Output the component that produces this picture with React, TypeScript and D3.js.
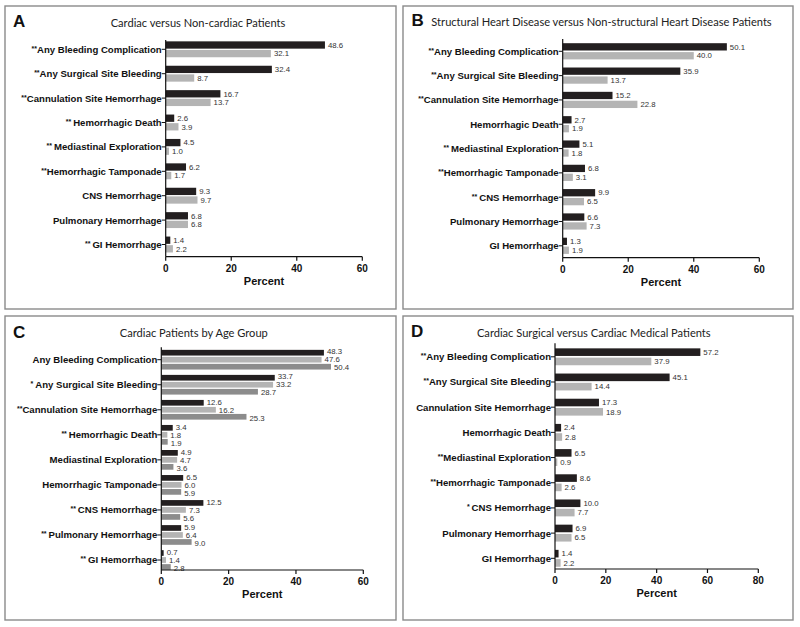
import React from "react";
import * as d3 from "d3";

// ---------- DATA ----------
const catsA = ["**Any Bleeding Complication", "**Any Surgical Site Bleeding", "**Cannulation Site Hemorrhage", "** Hemorrhagic Death", "** Mediastinal Exploration", "**Hemorrhagic Tamponade", "CNS Hemorrhage", "Pulmonary Hemorrhage", "** GI Hemorrhage"];
const aCardiac = [48.6, 32.4, 16.7, 2.6, 4.5, 6.2, 9.3, 6.8, 1.4];
const aNonCardiac = [32.1, 8.7, 13.7, 3.9, 1.0, 1.7, 9.7, 6.8, 2.2];

const catsB = ["**Any Bleeding Complication", "**Any Surgical Site Bleeding", "**Cannulation Site Hemorrhage", "Hemorrhagic Death", "** Mediastinal Exploration", "**Hemorrhagic Tamponade", "** CNS Hemorrhage", "Pulmonary Hemorrhage", "GI Hemorrhage"];
const bStructural = [50.1, 35.9, 15.2, 2.7, 5.1, 6.8, 9.9, 6.6, 1.3];
const bNonStructural = [40.0, 13.7, 22.8, 1.9, 1.8, 3.1, 6.5, 7.3, 1.9];

const catsC = ["Any Bleeding Complication", "* Any Surgical Site Bleeding", "**Cannulation Site Hemorrhage", "** Hemorrhagic Death", "Mediastinal Exploration", "Hemorrhagic Tamponade", "** CNS Hemorrhage", "** Pulmonary Hemorrhage", "** GI Hemorrhage"];
const cAge1 = [48.3, 33.7, 12.6, 3.4, 4.9, 6.5, 12.5, 5.9, 0.7];
const cAge2 = [47.6, 33.2, 16.2, 1.8, 4.7, 6.0, 7.3, 6.4, 1.4];
const cAge3 = [50.4, 28.7, 25.3, 1.9, 3.6, 5.9, 5.6, 9.0, 2.8];

const catsD = ["**Any Bleeding Complication", "**Any Surgical Site Bleeding", "Cannulation Site Hemorrhage", "Hemorrhagic Death", "**Mediastinal Exploration", "**Hemorrhagic Tamponade", "* CNS Hemorrhage", "Pulmonary Hemorrhage", "GI Hemorrhage"];
const dSurgical = [57.2, 45.1, 17.3, 2.4, 6.5, 8.6, 10.0, 6.9, 1.4];
const dMedical = [37.9, 14.4, 18.9, 2.8, 0.9, 2.6, 7.7, 6.5, 2.2];

const ticksA = [0, 20, 40, 60];
const ticksD = [0, 20, 40, 60, 80];
const axisTitle = "Percent";

// ---------- STYLE / LAYOUT ----------
const BLACK = "#231f20";
const LIGHT = "#b4b4b4";
const MID = "#8c8c8c";
const LABEL_FONT = "'Liberation Sans', Arial, sans-serif";
const TITLE_FONT = "Lato, 'Noto Sans', sans-serif";

type Panel = {
  letter: string; title: string; cats: string[]; series: number[][]; colors: string[];
  ticks: number[]; box: [number, number, number, number];
  x0: number; x1: number; axisY: number; top: number; first: number; last: number;
  barH: number; gap: number; labelStep: number; titleX: number; titleY: number;
  letterX: number; letterY: number;
};

const panels: Panel[] = [
  { letter: "A", title: "Cardiac versus Non-cardiac Patients", cats: catsA, series: [aCardiac, aNonCardiac], colors: [BLACK, LIGHT],
    ticks: ticksA, box: [5, 6, 396, 309], x0: 165.7, x1: 362.3, axisY: 256.7, top: 40, first: 49.3, last: 244.5,
    barH: 7.3, gap: 1.3, labelStep: 0, titleX: 198, titleY: 26.5, letterX: 13, letterY: 27 },
  { letter: "B", title: "Structural Heart Disease versus Non-structural Heart Disease Patients", cats: catsB, series: [bStructural, bNonStructural], colors: [BLACK, LIGHT],
    ticks: ticksA, box: [403, 6, 793, 309], x0: 562.7, x1: 759.3, axisY: 257.7, top: 39, first: 51.3, last: 245.8,
    barH: 7.3, gap: 1.6, labelStep: 0, titleX: 601.5, titleY: 25.5, letterX: 411.5, letterY: 26 },
  { letter: "C", title: "Cardiac Patients by Age Group", cats: catsC, series: [cAge1, cAge2, cAge3], colors: [BLACK, LIGHT, MID],
    ticks: ticksA, box: [5, 316, 396, 620], x0: 161.3, x1: 363.3, axisY: 570, top: 347.3, first: 359.7, last: 560,
    barH: 5.7, gap: 1.3, labelStep: 8, titleX: 193.8, titleY: 336.7, letterX: 13, letterY: 337.5 },
  { letter: "D", title: "Cardiac Surgical versus Cardiac Medical Patients", cats: catsD, series: [dSurgical, dMedical], colors: [BLACK, LIGHT],
    ticks: ticksD, box: [403, 316, 793, 620], x0: 555, x1: 758.3, axisY: 569, top: 343.3, first: 356.8, last: 558.3,
    barH: 7.6, gap: 1.7, labelStep: 0, titleX: 593.8, titleY: 336.7, letterX: 411, letterY: 337 },
];

function CatLabel({ text, x, y }: { text: string; x: number; y: number }) {
  const m = text.match(/^(\*+)(\s*)(.*)$/);
  if (!m) {
    return <text x={x} y={y} textAnchor="end" fontFamily={LABEL_FONT} fontWeight="bold" fontSize={9.6} fill="#111">{text}</text>;
  }
  return (
    <text x={x} y={y} textAnchor="end" fontFamily={LABEL_FONT} fontWeight="bold" fontSize={9.6} fill="#111">
      <tspan fontSize={7} dy={-2}>{m[1]}{m[2] ? "\u00a0" : ""}</tspan>
      <tspan dy={2}>{m[3]}</tspan>
    </text>
  );
}

function PanelView({ p }: { p: Panel }) {
  const max = p.ticks[p.ticks.length - 1];
  const x = d3.scaleLinear().domain([0, max]).range([p.x0, p.x1]);
  const step = (p.last - p.first) / (p.cats.length - 1);
  const y = d3.scaleBand<string>().domain(p.cats).range([p.first - step / 2, p.last + step / 2]).padding(0);
  const n = p.series.length;
  const groupH = n * p.barH + (n - 1) * p.gap;
  const [bx0, by0, bx1, by1] = p.box;
  return (
    <g>
      <rect x={bx0} y={by0} width={bx1 - bx0} height={by1 - by0} fill="white" stroke="#8a8a8a" strokeWidth={1.4} />
      <text x={p.letterX} y={p.letterY} fontFamily={LABEL_FONT} fontWeight="bold" fontSize={17} fill="#111">{p.letter}</text>
      <text x={p.titleX} y={p.titleY} textAnchor="middle" fontFamily={TITLE_FONT} fontSize={11.1} fill="#222">{p.title}</text>
      {p.cats.map((c, ci) => {
        const cy = (y(c) as number) + y.bandwidth() / 2;
        return (
          <g key={c}>
            {p.series.map((s, si) => {
              const top = cy - groupH / 2 + si * (p.barH + p.gap);
              const ly = p.labelStep ? cy + (si - (n - 1) / 2) * p.labelStep : top + p.barH / 2;
              return (
                <g key={si}>
                  <rect x={x(0)} y={top} width={x(s[ci]) - x(0)} height={p.barH} fill={p.colors[si]} />
                  <text x={x(s[ci]) + 3} y={ly} dy="0.35em" fontFamily={LABEL_FONT} fontSize={7.8} fill="#333">{s[ci].toFixed(1)}</text>
                </g>
              );
            })}
            <line x1={p.x0 - 4} x2={p.x0} y1={cy} y2={cy} stroke="#111" strokeWidth={1} />
            <CatLabel text={c} x={p.x0 - 4} y={cy + 3.4} />
          </g>
        );
      })}
      <line x1={p.x0} x2={p.x0} y1={p.top} y2={p.axisY} stroke="#111" strokeWidth={1.2} />
      <line x1={p.x0} x2={p.x1} y1={p.axisY} y2={p.axisY} stroke="#111" strokeWidth={1.2} />
      {p.ticks.map((t) => (
        <g key={t}>
          <line x1={x(t)} x2={x(t)} y1={p.axisY} y2={p.axisY + 4} stroke="#111" strokeWidth={1.2} />
          <text x={x(t)} y={p.axisY + 14.8} textAnchor="middle" fontFamily={LABEL_FONT} fontWeight="bold" fontSize={10} fill="#111">{t}</text>
        </g>
      ))}
      <text x={(p.x0 + p.x1) / 2} y={p.axisY + 28.3} textAnchor="middle" fontFamily={LABEL_FONT} fontWeight="bold" fontSize={11} fill="#111">{axisTitle}</text>
    </g>
  );
}

export default function App() {
  return (
    <svg width={800} height={627} style={{ position: "absolute", left: 0, top: 0, background: "white" }}>
      <rect x={0} y={0} width={800} height={627} fill="white" />
      {panels.map((p) => <PanelView key={p.letter} p={p} />)}
    </svg>
  );
}
